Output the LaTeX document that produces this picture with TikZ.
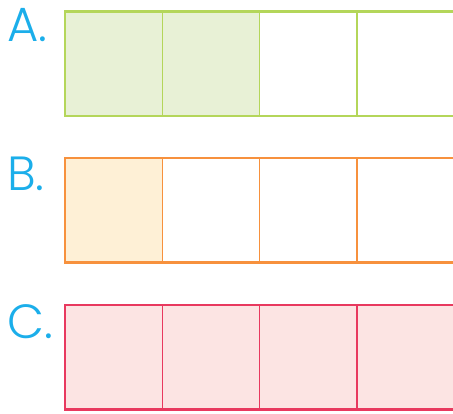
\documentclass[tikz,border=0pt]{standalone}
\usepackage{fontspec}
\setmainfont{Poppins Light}
\usepackage{xcolor}
\definecolor{labelblue}{HTML}{1BAEEA}
\definecolor{lineA}{HTML}{B4D65A}
\definecolor{fillA}{HTML}{E8F1D6}
\definecolor{lineB}{HTML}{F7913D}
\definecolor{fillB}{HTML}{FEF0D6}
\definecolor{lineC}{HTML}{E8395F}
\definecolor{fillC}{HTML}{FCE4E3}

\begin{document}
\begin{tikzpicture}[x=1pt, y=-1pt,
    cell/.style={rectangle, minimum width=97.3pt, minimum height=104.5pt, anchor=north west, inner sep=0pt, outer sep=0pt},
    divider/.style={line width=1.4pt},
    frame/.style={line width=2.6pt},
    letter/.style={text=labelblue, font=\fontsize{48}{48}\selectfont, anchor=base west, inner sep=0pt}
]
\useasboundingbox (0,0) rectangle (453,414);

% row A: two of four shaded
\foreach \i in {1,...,4} {
  \ifnum\i<3 \def\fillcol{fillA}\else\def\fillcol{white}\fi
  \node[cell, fill=\fillcol] (a\i) at ({65+97.3*(\i-1)}, 11.5) {};
}
\foreach \i in {1,2,3} \draw[divider, lineA] (a\i.north east) -- (a\i.south east);
\draw[frame, lineA] (a1.north west) rectangle (a4.south east);
\node[letter] (labA) at (7, 42) {A.};

% row B: one of four shaded
\foreach \i in {1,...,4} {
  \ifnum\i<2 \def\fillcol{fillB}\else\def\fillcol{white}\fi
  \node[cell, fill=\fillcol] (b\i) at ({65+97.3*(\i-1)}, 158) {};
}
\foreach \i in {1,2,3} \draw[divider, lineB] (b\i.north east) -- (b\i.south east);
\draw[frame, lineB] (b1.north west) rectangle (b4.south east);
\node[letter] (labB) at (7, 191) {B.};

% row C: all shaded
\foreach \i in {1,...,4} {
  \node[cell, fill=fillC] (c\i) at ({65+97.3*(\i-1)}, 305) {};
}
\foreach \i in {1,2,3} \draw[divider, lineC] (c\i.north east) -- (c\i.south east);
\draw[frame, lineC] (c1.north west) rectangle (c4.south east);
\node[letter] (labC) at (7, 339) {C.};
\end{tikzpicture}
\end{document}
